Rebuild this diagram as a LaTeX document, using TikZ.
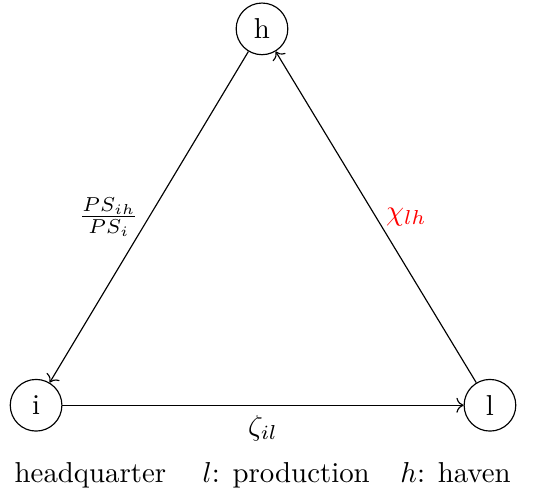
\documentclass[tikz,border=0pt]{standalone}
\usepackage{amsmath, amssymb}
\usepackage{tikz}
\usetikzlibrary{arrows.meta}

\begin{document}
\begin{tikzpicture}
  \useasboundingbox (0,0) rectangle (6.5,6.122);
  \tikzset{firm/.style={circle, draw, minimum size=0.63cm, inner sep=0pt}}
  \node[firm] (h) at (3.195,5.77) {h};
  \node[firm] (i) at (0.44,1.18) {i};
  \node[firm] (l) at (5.975,1.18) {l};
  \draw[->] (h) -- node[midway, left] {$\frac{PS_{ih}}{PS_i}$} (i);
  \draw[->] (l) -- node[midway, right, red] {$\chi_{lh}$} (h);
  \draw[->] (i) -- node[midway, below] {$\zeta_{il}$} (l);
  \node[anchor=base east, inner sep=0pt] (legend) at (6.235,0.244) {$i$: headquarter \hspace{6pt} $l$: production \hspace{4pt} $h$: haven};
\end{tikzpicture}
\end{document}
